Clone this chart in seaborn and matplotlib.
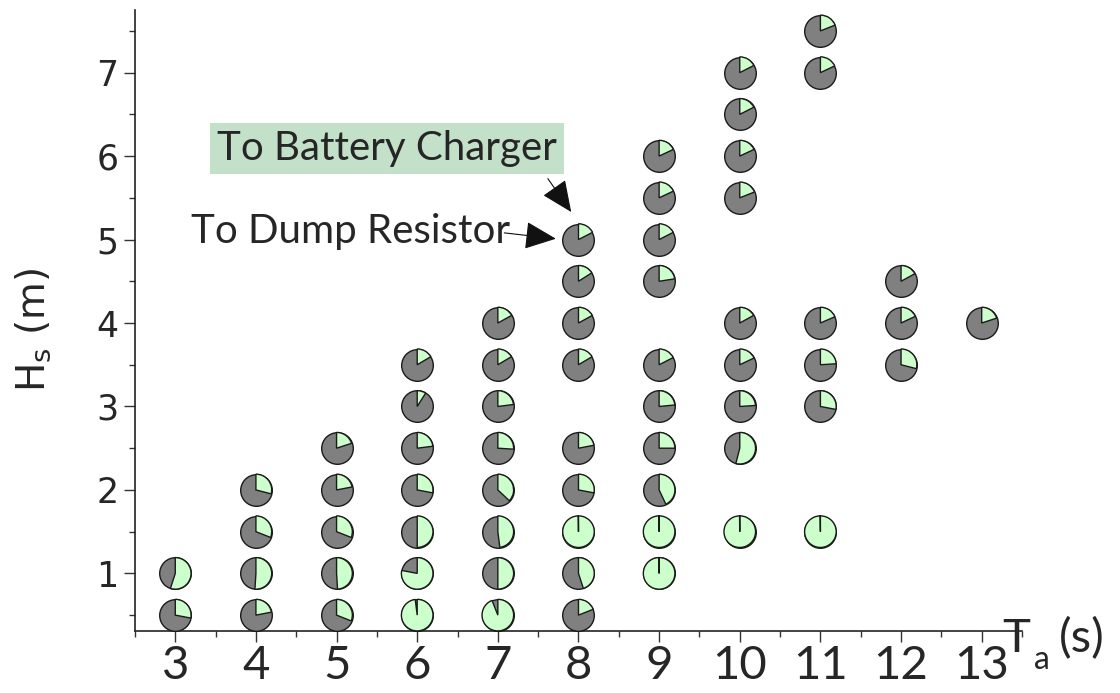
import numpy as np
import pandas as pd
import seaborn as sns
import matplotlib
matplotlib.use("Agg")
import matplotlib.pyplot as plt
from matplotlib.patches import Wedge
from matplotlib.transforms import ScaledTranslation
from matplotlib.ticker import MultipleLocator

# Sea states: energy period Ta (s), significant wave height Hs (m)
# and the share of generated power sent to the battery charger
# (the remainder goes to the dump resistor).
ta = [3, 3,
      4, 4, 4, 4,
      5, 5, 5, 5, 5,
      6, 6, 6, 6, 6, 6, 6,
      7, 7, 7, 7, 7, 7, 7, 7,
      8, 8, 8, 8, 8, 8, 8, 8, 8,
      9, 9, 9, 9, 9, 9, 9, 9, 9, 9,
      10, 10, 10, 10, 10, 10, 10, 10, 10,
      11, 11, 11, 11, 11, 11,
      12, 12, 12,
      13]
hs = [0.5, 1.0,
      0.5, 1.0, 1.5, 2.0,
      0.5, 1.0, 1.5, 2.0, 2.5,
      0.5, 1.0, 1.5, 2.0, 2.5, 3.0, 3.5,
      0.5, 1.0, 1.5, 2.0, 2.5, 3.0, 3.5, 4.0,
      0.5, 1.0, 1.5, 2.0, 2.5, 3.5, 4.0, 4.5, 5.0,
      1.0, 1.5, 2.0, 2.5, 3.0, 3.5, 4.5, 5.0, 5.5, 6.0,
      1.5, 2.5, 3.0, 3.5, 4.0, 5.5, 6.0, 6.5, 7.0,
      1.5, 3.0, 3.5, 4.0, 7.0, 7.5,
      3.5, 4.0, 4.5,
      4.0]
to_charger = [0.28, 0.55,
              0.22, 0.51, 0.31, 0.29,
              0.31, 0.49, 0.31, 0.22, 0.20,
              0.98, 0.78, 0.50, 0.28, 0.23, 0.09, 0.165,
              0.94, 0.50, 0.48, 0.37, 0.26, 0.23, 0.165, 0.17,
              0.19, 0.45, 0.998, 0.28, 0.22, 0.165, 0.17, 0.16, 0.175,
              0.998, 0.998, 0.43, 0.25, 0.235, 0.175, 0.225, 0.175, 0.18, 0.18,
              0.998, 0.54, 0.24, 0.18, 0.17, 0.19, 0.18, 0.175, 0.175,
              0.998, 0.28, 0.24, 0.185, 0.18, 0.19,
              0.29, 0.18, 0.17,
              0.20]

x_ticks = [3, 4, 5, 6, 7, 8, 9, 10, 11, 12, 13]
y_ticks = [1, 2, 3, 4, 5, 6, 7]

DUMP = "#808080"
CHARGER = "#ccffcc"
EDGE = "#1a1a1a"
RADIUS_IN = 0.158  # pie radius in inches

df = pd.DataFrame({"Ta": ta, "Hs": hs, "charger": to_charger})

sns.set_theme(style="ticks")
plt.rcParams["font.family"] = ["DejaVu Sans"]
plt.rcParams["mathtext.fontset"] = "dejavusans"

fig = plt.figure(figsize=(11.2, 6.93), dpi=100)
ax = fig.add_axes([0.1205, 0.0895, 0.792, 0.896])

# Full discs in the dump-resistor colour ...
diam_pt = 2 * RADIUS_IN * 72
sns.scatterplot(data=df, x="Ta", y="Hs", s=diam_pt ** 2, color=DUMP,
                edgecolor=EDGE, linewidth=1.0, legend=False, zorder=3,
                clip_on=False, ax=ax)

# ... overlaid with the charger share as a wedge running clockwise from 12 o'clock
for x, y, f in zip(df["Ta"], df["Hs"], df["charger"]):
    tr = fig.dpi_scale_trans + ScaledTranslation(x, y, ax.transData)
    w = Wedge((0, 0), RADIUS_IN, 90 - 360 * f, 90, facecolor=CHARGER,
              edgecolor=EDGE, linewidth=1.0, transform=tr, zorder=4,
              clip_on=False)
    ax.add_artist(w)

ax.set_xlim(2.5, 13.5)
ax.set_ylim(0.31, 7.75)
ax.set_xticks(x_ticks)
ax.set_yticks(y_ticks)
ax.xaxis.set_minor_locator(MultipleLocator(0.5))
ax.yaxis.set_minor_locator(MultipleLocator(0.5))
ax.set_xticklabels([str(v) for v in x_ticks])
ax.set_yticklabels([str(v) for v in y_ticks])
for lab in ax.get_xticklabels():
    lab.set_fontfamily("Lato")
    lab.set_fontsize(34)
for lab in ax.get_yticklabels():
    lab.set_fontfamily("DejaVu Sans")
    lab.set_fontsize(25)
ax.tick_params(axis="both", which="major", direction="out", length=8,
               width=1.0, color="#333333", pad=4)
ax.tick_params(axis="both", which="minor", direction="out", length=4,
               width=1.0, color="#333333")
ax.tick_params(axis="x", which="major", pad=2)

sns.despine(ax=ax)
for side in ("left", "bottom"):
    ax.spines[side].set_color("#222222")
    ax.spines[side].set_linewidth(1.2)

ax.set_xlabel("")
ax.set_ylabel(r"H$_\mathregular{s}$ (m)", fontsize=28, family="DejaVu Sans")
ax.yaxis.set_label_coords(-0.092, 0.485)

ax.text(1.009, -0.013, "T", transform=ax.transAxes, fontsize=34,
        family="Lato", ha="right", va="center", clip_on=False)
ax.text(1.013, -0.047, "a", transform=ax.transAxes, fontsize=23,
        family="Lato", ha="left", va="center", clip_on=False)
ax.text(1.042, -0.013, "(s)", transform=ax.transAxes, fontsize=34,
        family="Lato", ha="left", va="center", clip_on=False)

# Callouts for the two wedge colours, pointing at the Ta = 8 s, Hs = 5 m pie
arrow = dict(arrowstyle="-|>,head_length=0.9,head_width=0.4",
             mutation_scale=22, color="#111111", lw=0.8,
             shrinkA=0, shrinkB=0)
ax.text(3.52, 6.09, "To Battery Charger", fontsize=29, family="Lato",
        ha="left", va="center", zorder=5,
        bbox=dict(boxstyle="square,pad=0.18", facecolor="#c3e0c9",
                  edgecolor="none"))
ax.annotate("", xy=(7.91, 5.33), xytext=(7.62, 5.73), arrowprops=arrow,
            zorder=5)
ax.text(3.2, 5.1, "To Dump Resistor", fontsize=29, family="Lato",
        ha="left", va="center", zorder=5)
ax.annotate("", xy=(7.72, 5.01), xytext=(7.08, 5.08), arrowprops=arrow,
            zorder=5)

fig.savefig("out.png", dpi=100, facecolor="white")
